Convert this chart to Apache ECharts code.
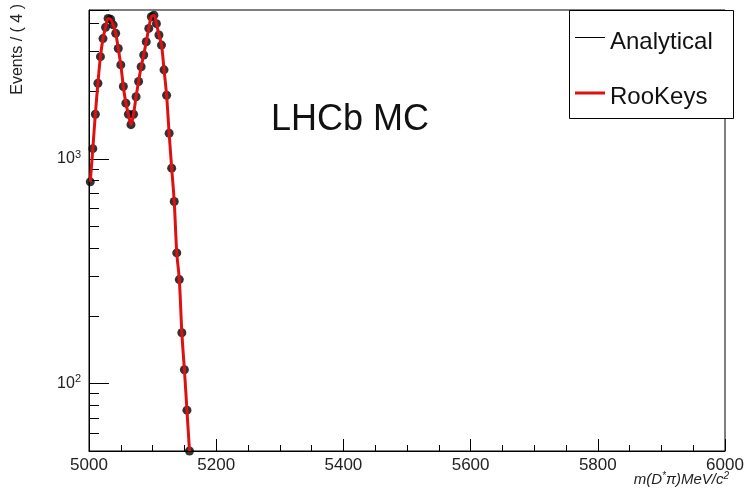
<!DOCTYPE html>
<html><head><meta charset="utf-8">
<script src="https://cdn.jsdelivr.net/npm/echarts@6/dist/echarts.min.js"></script>
<style>html,body{margin:0;padding:0;background:#fff}#c{width:746px;height:493px}</style>
</head><body><div id="c"></div>
<script>
// bin centres (MeV/c^2), bin width 4
const binCenters = [5002,5006,5010,5014,5018,5022,5026,5030,5034,5038,
  5042,5046,5050,5054,5058,5062,5066,5070,5074,5078,
  5082,5086,5090,5094,5098,5102,5106,5110,5114,5118,
  5122,5126,5130,5134,5138,5142,5146,5150,5154,5158];
// events per bin (MC data points)
const eventCounts = [790,1110,1580,2170,2850,3430,3850,4220,4180,3950,
  3620,3100,2620,2100,1770,1580,1420,1580,1890,2210,
  2570,2900,3320,3810,4290,4360,4000,3560,3210,2490,
  1920,1300,909,646,381,290,168,115,76,50];
// fitted curves (both PDFs coincide with the data)
const analyticalValues = [790,1110,1580,2170,2850,3430,3850,4220,4180,3950,
  3620,3100,2620,2100,1770,1580,1420,1580,1890,2210,
  2570,2900,3320,3810,4290,4360,4000,3560,3210,2490,
  1920,1300,909,646,381,290,168,115,76,50];
const rooKeysValues = [790,1110,1580,2170,2850,3430,3850,4220,4180,3950,
  3620,3100,2620,2100,1770,1580,1420,1580,1890,2210,
  2570,2900,3320,3810,4290,4360,4000,3560,3210,2490,
  1920,1300,909,646,381,290,168,115,76,50];
const yMinorTicks = [60,70,80,90,200,300,400,500,600,700,800,900,2000,3000,4000];
const seriesNames = ['Analytical','RooKeys'];

const pairs = a => binCenters.map((x,i)=>[x,a[i]]);
const FONT = '"Liberation Sans", Arial, Helvetica, sans-serif';
const chart = echarts.init(document.getElementById('c'));
chart.setOption({
  animation:false,
  backgroundColor:'#fff',
  grid:{left:89,top:10,right:21,bottom:42,outerBoundsMode:'none',containLabel:false,
    show:true,borderColor:'#000',borderWidth:1,backgroundColor:'transparent'},
  xAxis:{type:'value',min:5000,max:6000,interval:200,
    axisLine:{lineStyle:{color:'#000',width:1}},
    axisTick:{inside:true,length:12,lineStyle:{color:'#000'}},
    minorTick:{show:true,splitNumber:4,length:6,lineStyle:{color:'#000'}},
    splitLine:{show:false},
    axisLabel:{color:'#222',fontSize:17,fontFamily:FONT,margin:6,formatter:v=>String(v)}},
  yAxis:[{type:'log',logBase:10,min:50,max:4600,
    axisLine:{lineStyle:{color:'#000',width:1}},
    axisTick:{inside:true,length:20,lineStyle:{color:'#000'}},
    splitLine:{show:false},
    axisLabel:{margin:8,color:'#222',fontFamily:FONT,
      formatter:function(v){const e=Math.round(Math.log10(v));
        if(Math.abs(Math.log10(v)-e)>1e-6)return '';
        return '{b|10}{s|'+e+'}';},
      rich:{b:{fontSize:16,fontFamily:FONT,color:'#222'},s:{fontSize:11,fontFamily:FONT,color:'#222',verticalAlign:'top',padding:[0,0,8,0]}}}},
   {type:'log',logBase:10,min:50,max:4600,position:'left',
    axisLine:{show:false},axisLabel:{show:false},splitLine:{show:false},
    axisTick:{show:true,inside:true,length:10,customValues:yMinorTicks,lineStyle:{color:'#000'}}}],
  series:[
    {name:'Data',type:'scatter',data:pairs(eventCounts),symbol:'circle',symbolSize:9,
      itemStyle:{color:'#000'},z:2},
    {name:seriesNames[0],type:'line',data:pairs(analyticalValues),smooth:0.35,showSymbol:false,symbol:'none',
      lineStyle:{color:'#000',width:1},z:3},
    {name:seriesNames[1],type:'line',data:pairs(rooKeysValues),smooth:0.35,showSymbol:false,symbol:'none',
      lineStyle:{color:'#dd1111',width:3},z:4}
  ],
  graphic:[
    {type:'text',x:18,y:4,rotation:Math.PI/2,z:10,
      style:{text:'Events / ( 4 )',font:'16px '+FONT,fill:'#222',textAlign:'right',textVerticalAlign:'middle'}},
    {type:'text',x:729,y:480,z:10,
      style:{text:'{i|m(D}{si|*}{i|π)MeV/c}{si|2}',textAlign:'right',textVerticalAlign:'middle',
        rich:{i:{fontStyle:'italic',fontSize:15,fontFamily:FONT,fill:'#222'},
              si:{fontStyle:'italic',fontSize:10,fontFamily:FONT,fill:'#222',padding:[0,0,8,0]}}}},
    {type:'text',x:350,y:120,z:10,
      style:{text:'LHCb MC',font:'36px '+FONT,fill:'#111',textAlign:'center',textVerticalAlign:'middle'}},
    {type:'rect',shape:{x:569.5,y:10.5,width:164,height:108},z:20,
      style:{fill:'#fff',stroke:'#000',lineWidth:1}},
    {type:'line',shape:{x1:575,y1:37.5,x2:605,y2:37.5},z:21,style:{stroke:'#000',lineWidth:1}},
    {type:'text',x:610,y:42,z:21,style:{text:seriesNames[0],font:'24px '+FONT,fill:'#111',textVerticalAlign:'middle'}},
    {type:'line',shape:{x1:575,y1:93,x2:605,y2:93},z:21,style:{stroke:'#dd1111',lineWidth:3}},
    {type:'text',x:610,y:97,z:21,style:{text:seriesNames[1],font:'24px '+FONT,fill:'#111',textVerticalAlign:'middle'}}
  ]
});
</script></body></html>
